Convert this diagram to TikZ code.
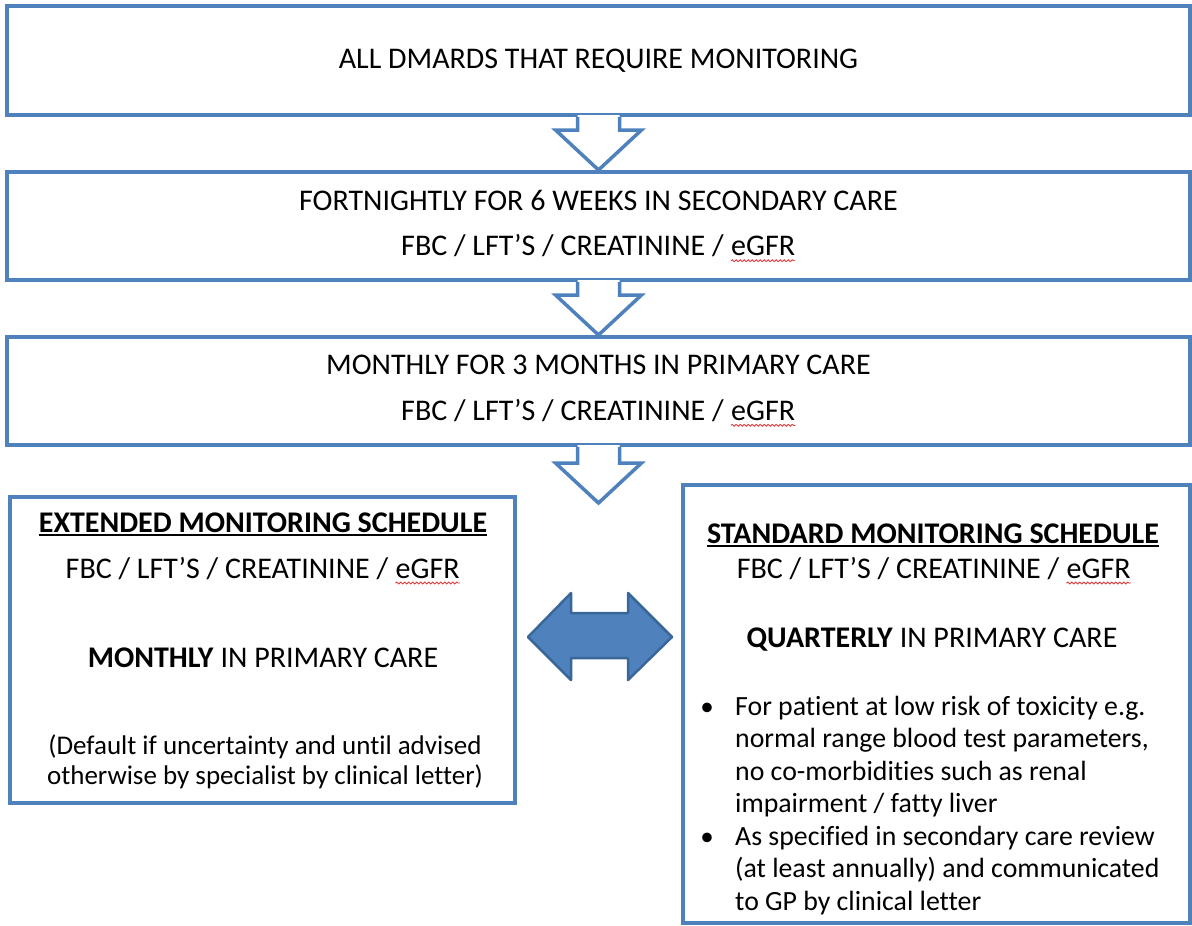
\documentclass[tikz,border=0pt]{standalone}
\usepackage{fontspec}
\setmainfont{Carlito}[Ligatures=NoCommon]
\usepackage{tikz}
\usetikzlibrary{calc,decorations.pathmorphing}
\definecolor{frame}{HTML}{4F81BD}
\definecolor{frameedge}{HTML}{3A679A}
\definecolor{squig}{HTML}{E03A3A}
\tikzset{
  box/.style={draw=frame, line width=4pt, fill=white, inner sep=0pt, align=center,
    font=\fontsize{30}{45.5}\selectfont},
  txt/.style={anchor=base, inner sep=0pt, font=\fontsize{30}{36}\selectfont},
  head/.style={anchor=base, inner sep=0pt, font=\bfseries\fontsize{30}{36}\selectfont},
  note/.style={anchor=base, inner sep=0pt, font=\fontsize{27}{30}\selectfont},
  item/.style={anchor=base west, inner sep=0pt, font=\fontsize{27.8}{32}\selectfont},
  hollow/.style={draw=frame, line width=3.5pt},
  dbl/.style={fill=frame, draw=frameedge, line width=2.5pt, line join=round},
}
\newlength\headwd
\newcommand\headline[1]{\settowidth{\headwd}{#1}\rlap{\rule[-3.5pt]{\headwd}{1.8pt}}#1}
% red spell-check wave under a word
\newcommand\wavy[1]{\tikz[baseline=0pt]{\node[inner sep=0pt, anchor=base, minimum width=0pt,
    minimum height=0pt, draw=none, fill=none] (w) at (0,0) {#1};
  \draw[squig, line width=0.9pt, decorate, decoration={snake,amplitude=0.9pt,segment length=4pt}]
    ([yshift=-5pt]w.base west) -- ([yshift=-5pt]w.base east);}}
% hollow block arrow from a box edge down to a tip
\newcommand\blockarrow[2]{%
  \fill[white] let \p1=(#1), \p2=(#2) in
    (\x2-21pt,\y1+2pt) -- (\x2-21pt,\y2+40pt) -- (\x2-43pt,\y2+40pt) -- (\p2)
    -- (\x2+43pt,\y2+40pt) -- (\x2+21pt,\y2+40pt) -- (\x2+21pt,\y1+2pt) -- cycle;
  \draw[hollow] let \p1=(#1), \p2=(#2) in
    (\x2-21pt,\y1) -- (\x2-21pt,\y2+40pt) -- (\x2-43pt,\y2+40pt) -- (\p2)
    -- (\x2+43pt,\y2+40pt) -- (\x2+21pt,\y2+40pt) -- (\x2+21pt,\y1);
}

\begin{document}
\begin{tikzpicture}[x=1pt,y=-1pt]
  \useasboundingbox (0,0) rectangle (1192,926);

  \node[box, minimum width=1183pt, minimum height=109pt] (all) at (598.5,60.5)
    {ALL DMARDS THAT REQUIRE MONITORING};
  \node[box, minimum width=1183pt, minimum height=108pt] (fort) at (598.5,226)
    {FORTNIGHTLY FOR 6 WEEKS IN SECONDARY CARE\\FBC / LFT’S / CREATININE / \wavy{eGFR}};
  \node[box, minimum width=1183pt, minimum height=108pt] (mon) at (598.5,391)
    {MONTHLY FOR 3 MONTHS IN PRIMARY CARE\\FBC / LFT’S / CREATININE / \wavy{eGFR}};
  \node[box, minimum width=505pt, minimum height=306pt] (ext) at (262.5,650) {};
  \node[box, line width=4.5pt, minimum width=507pt, minimum height=438pt] (std) at (936.5,704) {};

  \blockarrow{all.south}{fort.north}
  \blockarrow{fort.south}{mon.north}
  \coordinate (split) at (598.5,503);
  \blockarrow{mon.south}{split}

  % extended schedule
  \node[head] (exthead) at (263,532) {\headline{EXTENDED MONITORING SCHEDULE}};
  \node[txt] (exttests) at (263,578) {FBC / LFT’S / CREATININE / \wavy{eGFR}};
  \node[txt] (extfreq) at (263,667) {\textbf{MONTHLY} IN PRIMARY CARE};
  \node[note] (extnote1) at (265,754) {(Default if uncertainty and until advised};
  \node[note] (extnote2) at (265,784) {otherwise by specialist by clinical letter)};

  % standard schedule
  \node[head] (stdhead) at (933,543) {\headline{STANDARD MONITORING SCHEDULE}};
  \node[txt] (stdtests) at (934,578) {FBC / LFT’S / CREATININE / \wavy{eGFR}};
  \node[txt] (stdfreq) at (932,647) {\textbf{QUARTERLY} IN PRIMARY CARE};
  \node[txt, font=\fontsize{27}{32}\selectfont] (bul1) at (707,715) {•};
  \node[txt, font=\fontsize{27}{32}\selectfont] (bul2) at (707,845) {•};
  \node[item] (l1) at (735,715) {For patient at low risk of toxicity e.g.};
  \node[item] (l2) at (735,747.5) {normal range blood test parameters,};
  \node[item] (l3) at (735,780) {no co-morbidities such as renal};
  \node[item] (l4) at (735,812.5) {impairment / fatty liver};
  \node[item] (l5) at (735,845) {As specified in secondary care review};
  \node[item] (l6) at (735,877.5) {(at least annually) and communicated};
  \node[item] (l7) at (735,910) {to GP by clinical letter};

  \coordinate (lt) at (528,637);
  \coordinate (rt) at (672,637);
  \filldraw[dbl] let \p1=(lt), \p2=(rt) in
    (\p1) -- (\x1+43pt,\y1+44pt) -- (\x1+43pt,\y1+24pt) -- (\x2-44pt,\y2+24pt)
    -- (\x2-44pt,\y2+44pt) -- (\p2) -- (\x2-44pt,\y2-43pt) -- (\x2-44pt,\y2-21pt)
    -- (\x1+43pt,\y1-21pt) -- (\x1+43pt,\y1-43pt) -- cycle;
\end{tikzpicture}
\end{document}
